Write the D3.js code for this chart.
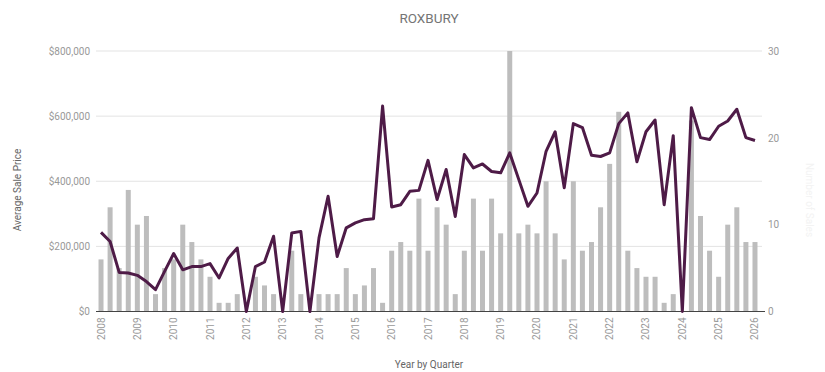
<!DOCTYPE html>
<html>
<head>
<meta charset="utf-8">
<script src="https://cdn.jsdelivr.net/npm/d3@7"></script>
<style>
  html, body { margin: 0; padding: 0; background: #fff; }
  svg { display: block; font-family: Roboto, "Noto Sans", sans-serif; }
</style>
</head>
<body>
<svg id="chart" width="825" height="372"></svg>
<script>
// Years covered, one label per first quarter
const years = [2008, 2009, 2010, 2011, 2012, 2013, 2014, 2015, 2016, 2017,
               2018, 2019, 2020, 2021, 2022, 2023, 2024, 2025, 2026];
const quarterNames = ["Q1", "Q2", "Q3", "Q4"];

// Number of sales per quarter (right axis, bars)
const salesCount = [
  6, 12, 5, 14, 10, 11, 2, 5, 6, 10,
  8, 6, 4, 1, 1, 2, 0, 4, 3, 2,
  0, 7, 2, 0, 2, 2, 2, 5, 2, 3,
  5, 1, 7, 8, 7, 13, 7, 12, 10, 2,
  7, 13, 7, 13, 9, 30, 9, 10, 9, 15,
  9, 6, 15, 7, 8, 12, 17, 23, 7, 5,
  4, 4, 1, 2, 0, 22, 11, 7, 4, 10,
  12, 8, 8
];

// Average sale price per quarter (left axis, line)
const avgPrice = [
  243000, 215000, 120000, 118000, 111000, 92000, 67000, 123000, 178000, 128000,
  138000, 138000, 147000, 103000, 163000, 195000, 0, 138000, 152000, 231000,
  0, 241000, 246000, 0, 226000, 354000, 169000, 257000, 272000, 282000,
  285000, 631000, 321000, 328000, 369000, 372000, 464000, 344000, 436000, 292000,
  482000, 441000, 453000, 430000, 426000, 487000, 405000, 323000, 364000, 492000,
  552000, 380000, 577000, 565000, 480000, 476000, 487000, 577000, 610000, 460000,
  552000, 588000, 328000, 540000, 0, 626000, 534000, 528000, 569000, 585000,
  621000, 534000, 525000
];

const priceTicks = [0, 200000, 400000, 600000, 800000];
const countTicks = [0, 10, 20, 30];

// Quarter keys: every quarter from 2008 Q1 through 2026 Q1
const quarters = [];
years.forEach(y => quarterNames.forEach(q => {
  if (quarters.length < salesCount.length) quarters.push(y + " " + q);
}));
const rows = quarters.map((q, i) => ({ q, count: salesCount[i], price: avgPrice[i] }));

const svg = d3.select("#chart");
const plot = { left: 96, right: 762, top: 51, bottom: 311.5 };

const x = d3.scaleBand()
  .domain(quarters)
  .range([96.7, 759.3])
  .paddingInner(0.45)
  .paddingOuter(0.2);
const xc = d => x(d) + x.bandwidth() / 2;

const yPrice = d3.scaleLinear().domain([0, 800000]).range([plot.bottom, plot.top]);
const yCount = d3.scaleLinear().domain([0, 30]).range([plot.bottom, plot.top]);

// Title
svg.append("text")
  .attr("x", (plot.left + plot.right) / 2)
  .attr("y", 23)
  .attr("text-anchor", "middle")
  .attr("fill", "#757575")
  .attr("font-size", 13.5)
  .text("ROXBURY");

// Horizontal gridlines from the price axis
svg.append("g")
  .selectAll("line")
  .data(priceTicks.filter(d => d > 0))
  .join("line")
  .attr("x1", plot.left)
  .attr("x2", plot.right)
  .attr("y1", d => yPrice(d))
  .attr("y2", d => yPrice(d))
  .attr("stroke", "#e3e3e3")
  .attr("stroke-width", 1);

// Bars: sales count
svg.append("g")
  .selectAll("rect")
  .data(rows)
  .join("rect")
  .attr("x", d => x(d.q))
  .attr("width", x.bandwidth())
  .attr("y", d => yCount(d.count))
  .attr("height", d => yCount(0) - yCount(d.count))
  .attr("fill", "#bdbdbd");

// Baseline
svg.append("line")
  .attr("x1", plot.left)
  .attr("x2", plot.right + 3)
  .attr("y1", yPrice(0))
  .attr("y2", yPrice(0))
  .attr("stroke", "#444")
  .attr("stroke-width", 1);

// Line: average sale price
const line = d3.line()
  .x(d => xc(d.q))
  .y(d => yPrice(d.price));
svg.append("path")
  .datum(rows)
  .attr("d", line)
  .attr("fill", "none")
  .attr("stroke", "#4e1b47")
  .attr("stroke-width", 3)
  .attr("stroke-linejoin", "round");

// Left axis (price)
const leftAxis = d3.axisLeft(yPrice)
  .tickValues(priceTicks)
  .tickSize(0)
  .tickPadding(6)
  .tickFormat(d => "$" + d3.format(",")(d));
const gl = svg.append("g").attr("transform", `translate(${plot.left},0)`).call(leftAxis);
gl.select(".domain").remove();
gl.selectAll("text").attr("fill", "#999").attr("font-size", 10).attr("font-family", "Roboto, sans-serif");

// Right axis (count)
const rightAxis = d3.axisRight(yCount)
  .tickValues(countTicks)
  .tickSize(0)
  .tickPadding(6);
const gr = svg.append("g").attr("transform", `translate(${plot.right},0)`).call(rightAxis);
gr.select(".domain").remove();
gr.selectAll("text").attr("fill", "#999").attr("font-size", 10).attr("font-family", "Roboto, sans-serif");

// Bottom axis: year labels at each first quarter
const bottomAxis = d3.axisBottom(x)
  .tickValues(quarters.filter(q => q.endsWith("Q1")))
  .tickSize(0)
  .tickFormat(q => q.slice(0, 4));
const gb = svg.append("g").attr("transform", `translate(0,${plot.bottom})`).call(bottomAxis);
gb.select(".domain").remove();
gb.selectAll("text")
  .attr("fill", "#999")
  .attr("font-size", 10)
  .attr("font-family", "Roboto, sans-serif")
  .attr("text-anchor", "end")
  .attr("dy", "0.35em")
  .attr("transform", "translate(0,6) rotate(-90)")
  .attr("x", 0)
  .attr("y", 0);

// Axis titles
svg.append("text")
  .attr("x", (plot.left + plot.right) / 2)
  .attr("y", 368)
  .attr("text-anchor", "middle")
  .attr("fill", "#666")
  .attr("font-size", 10)
  .text("Year by Quarter");

svg.append("text")
  .attr("transform", `translate(21,${190}) rotate(-90)`)
  .attr("text-anchor", "middle")
  .attr("fill", "#666")
  .attr("font-size", 10)
  .text("Average Sale Price");

svg.append("text")
  .attr("transform", `translate(806,${200}) rotate(90)`)
  .attr("text-anchor", "middle")
  .attr("fill", "#f3f3f3")
  .attr("font-size", 10)
  .text("Number of Sales");
</script>
</body>
</html>
